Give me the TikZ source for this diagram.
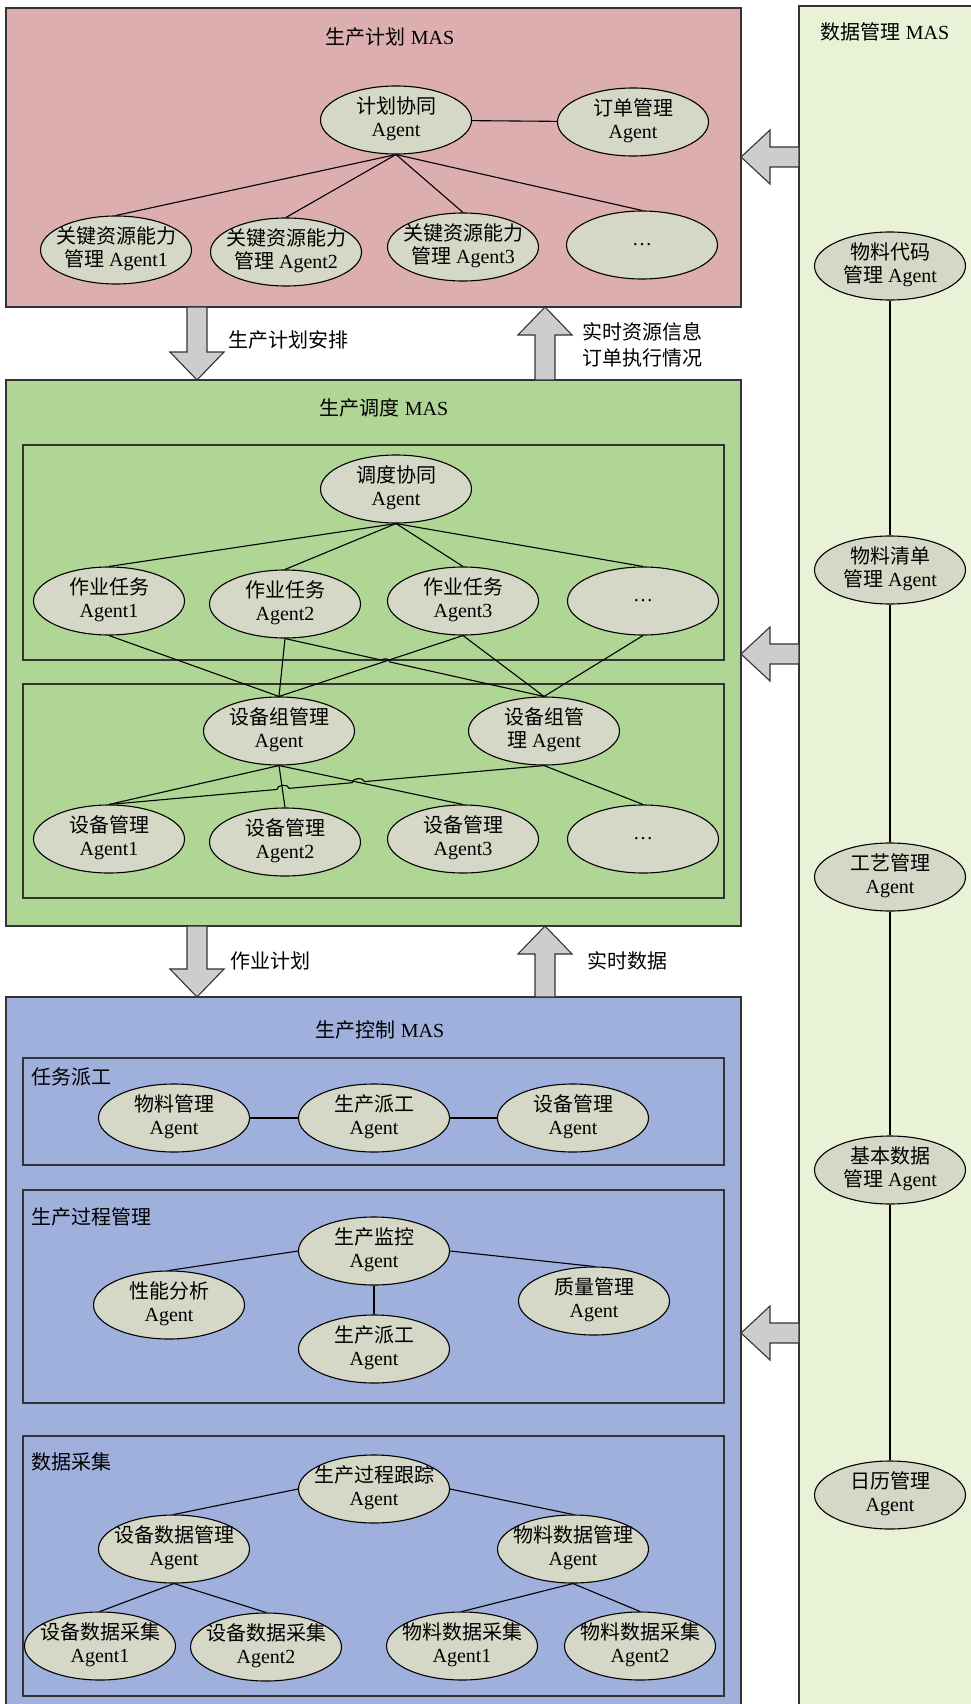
\documentclass[tikz,border=0pt]{standalone}
\usepackage{fontspec}
\setmainfont{Liberation Serif}
\newfontfamily\cjk{Noto Sans CJK SC}
\usepackage{xcolor}
\usepackage{tikz}
\usetikzlibrary{shapes.geometric, calc}

\definecolor{planred}{RGB}{221,174,175}
\definecolor{schedgreen}{RGB}{176,214,150}
\definecolor{ctrlblue}{RGB}{160,176,220}
\definecolor{datagreen}{RGB}{233,242,215}
\definecolor{agentgray}{RGB}{213,216,198}
\definecolor{arrowgray}{RGB}{205,205,205}

\newcommand{\zh}[1]{{\cjk #1}}
\newcommand{\ag}[2]{\makebox[0pt]{\begin{tabular}{@{}c@{}}#1\\#2\end{tabular}}}
% block arrows: x, y from, y tip  /  y, x from, x tip
\newcommand{\arrdown}[3]{\draw[blockarr] (#1-10,#2) -- (#1-10,#3-28) -- (#1-27,#3-28) -- (#1,#3) -- (#1+27,#3-28) -- (#1+10,#3-28) -- (#1+10,#2) -- cycle;}
\newcommand{\arrup}[3]{\draw[blockarr] (#1-10,#2) -- (#1-10,#3+28) -- (#1-27,#3+28) -- (#1,#3) -- (#1+27,#3+28) -- (#1+10,#3+28) -- (#1+10,#2) -- cycle;}
\newcommand{\arrleft}[3]{\draw[blockarr] (#2,#1-10) -- (#3+29,#1-10) -- (#3+29,#1-27) -- (#3,#1) -- (#3+29,#1+27) -- (#3+29,#1+10) -- (#2,#1+10) -- cycle;}

\begin{document}
\begin{tikzpicture}[x=1pt, y=-1pt, font=\fontsize{20}{23}\selectfont, line width=1.1pt,
  agent/.style={ellipse, draw, line width=1.1pt, fill=agentgray, minimum width=151pt, minimum height=68pt, inner sep=0pt},
  mas/.style={draw=black!80, line width=1.3pt},
  blockarr/.style={draw=black!80, line width=1.1pt, fill=arrowgray}]
\useasboundingbox (0,0) rectangle (971,1704);
\clip (0,0) rectangle (971,1704);

% data management
\draw[mas, fill=datagreen] (799,6) rectangle (990,1720);
\node (dmtitle) at (885,32) {\zh{数据管理} MAS};
\node[agent] (r1) at (890,266)  {\ag{\zh{物料代码}}{\zh{管理} Agent}};
\node[agent] (r2) at (890,570)  {\ag{\zh{物料清单}}{\zh{管理} Agent}};
\node[agent] (r3) at (890,877)  {\ag{\zh{工艺管理}}{Agent}};
\node[agent] (r4) at (890,1170) {\ag{\zh{基本数据}}{\zh{管理} Agent}};
\node[agent] (r5) at (890,1495) {\ag{\zh{日历管理}}{Agent}};
\draw (r1) -- (r2) -- (r3) -- (r4) -- (r5);

% planning
\draw[mas, fill=planred] (6,8) rectangle (741,307);
\node (pltitle) at (390,37) {\zh{生产计划} MAS};
\node[agent] (pc) at (396,120) {\ag{\zh{计划协同}}{Agent}};
\node[agent] (om) at (633,122) {\ag{\zh{订单管理}}{Agent}};
\node[agent] (kr1) at (116,250) {\ag{\zh{关键资源能力}}{\zh{管理} Agent1}};
\node[agent] (kr2) at (286,252) {\ag{\zh{关键资源能力}}{\zh{管理} Agent2}};
\node[agent] (kr3) at (463,247) {\ag{\zh{关键资源能力}}{\zh{管理} Agent3}};
\node[agent] (kr4) at (642,245) {\dots};
\draw (pc) -- (om);
\foreach \n in {kr1,kr2,kr3,kr4}
  \draw (pc.south) -- (\n.north);

% scheduling
\draw[mas, fill=schedgreen] (6,380) rectangle (741,926);
\node (sctitle) at (384,408) {\zh{生产调度} MAS};
\draw[mas] (23,445) rectangle (724,660);
\draw[mas] (23,684) rectangle (724,898);
\node[agent] (sc) at (396,489) {\ag{\zh{调度协同}}{Agent}};
\node[agent] (t1) at (109,601) {\ag{\zh{作业任务}}{Agent1}};
\node[agent] (t2) at (285,604) {\ag{\zh{作业任务}}{Agent2}};
\node[agent] (t3) at (463,601) {\ag{\zh{作业任务}}{Agent3}};
\node[agent] (t4) at (643,601) {\dots};
\node[agent] (g1) at (279,731) {\ag{\zh{设备组管理}}{Agent}};
\node[agent] (g2) at (544,731) {\ag{\zh{设备组管}}{\zh{理} Agent}};
\node[agent] (m1) at (109,839) {\ag{\zh{设备管理}}{Agent1}};
\node[agent] (m2) at (285,842) {\ag{\zh{设备管理}}{Agent2}};
\node[agent] (m3) at (463,839) {\ag{\zh{设备管理}}{Agent3}};
\node[agent] (m4) at (643,839) {\dots};
\foreach \n in {t1,t2,t3,t4}
  \draw (sc.south) -- (\n.north);
\foreach \a/\b in {t1/g1, t2/g1, t3/g1, t3/g2, t4/g2}
  \draw (\a.south) -- (\b.north);
\draw (t2.south) -- ($(t2.south)!0.375!(g2.north)$) to[bend left=90] ($(t2.south)!0.405!(g2.north)$) -- (g2.north);
\foreach \n in {m1,m2,m3}
  \draw (g1.south) -- (\n.north);
\draw (g2.south) -- (m4.north);
\draw (g2.south) -- ($(g2.south)!0.413!(m1.north)$) to[bend right=90] ($(g2.south)!0.441!(m1.north)$)
  -- ($(g2.south)!0.586!(m1.north)$) to[bend right=90] ($(g2.south)!0.614!(m1.north)$) -- (m1.north);

% control
\draw[mas, fill=ctrlblue] (6,997) rectangle (741,1720);
\node (cttitle) at (380,1030) {\zh{生产控制} MAS};
\draw[mas] (23,1058) rectangle (724,1165);
\draw[mas] (23,1190) rectangle (724,1403);
\draw[mas] (23,1436) rectangle (724,1696);
\node[anchor=west] (dlabel) at (28,1077) {\zh{任务派工}};
\node[anchor=west] (plabel) at (28,1217) {\zh{生产过程管理}};
\node[anchor=west] (alabel) at (28,1462) {\zh{数据采集}};

\node[agent] (d1) at (174,1118) {\ag{\zh{物料管理}}{Agent}};
\node[agent] (d2) at (374,1118) {\ag{\zh{生产派工}}{Agent}};
\node[agent] (d3) at (573,1118) {\ag{\zh{设备管理}}{Agent}};
\draw (d1) -- (d2) -- (d3);

\node[agent] (p1) at (374,1251) {\ag{\zh{生产监控}}{Agent}};
\node[agent] (p2) at (169,1305) {\ag{\zh{性能分析}}{Agent}};
\node[agent] (p3) at (594,1301) {\ag{\zh{质量管理}}{Agent}};
\node[agent] (p4) at (374,1349) {\ag{\zh{生产派工}}{Agent}};
\draw (p1.west) -- (p2.north);
\draw (p1.east) -- (p3.north);
\draw (p1.south) -- (p4.north);

\node[agent] (a1) at (374,1489) {\ag{\zh{生产过程跟踪}}{Agent}};
\node[agent] (a2) at (174,1549) {\ag{\zh{设备数据管理}}{Agent}};
\node[agent] (a3) at (573,1549) {\ag{\zh{物料数据管理}}{Agent}};
\node[agent] (a4) at (100,1646) {\ag{\zh{设备数据采集}}{Agent1}};
\node[agent] (a5) at (266,1647) {\ag{\zh{设备数据采集}}{Agent2}};
\node[agent] (a6) at (462,1646) {\ag{\zh{物料数据采集}}{Agent1}};
\node[agent] (a7) at (640,1646) {\ag{\zh{物料数据采集}}{Agent2}};
\draw (a1.west) -- (a2.north);
\draw (a1.east) -- (a3.north);
\foreach \a/\b in {a2/a4, a2/a5, a3/a6, a3/a7}
  \draw (\a.south) -- (\b.north);

% block arrows
\arrdown{197}{307}{380}
\arrup{545}{380}{307}
\arrdown{197}{926}{997}
\arrup{545}{997}{926}
\arrleft{157}{799}{741}
\arrleft{654}{799}{741}
\arrleft{1333}{799}{741}
\node (lbplan) at (288,340) {\zh{生产计划安排}};
\node (lbres) at (642,332) {\zh{实时资源信息}};
\node (lbord) at (642,358) {\zh{订单执行情况}};
\node (lbjob) at (270,961) {\zh{作业计划}};
\node (lbdata) at (627,961) {\zh{实时数据}};
\end{tikzpicture}
\end{document}
